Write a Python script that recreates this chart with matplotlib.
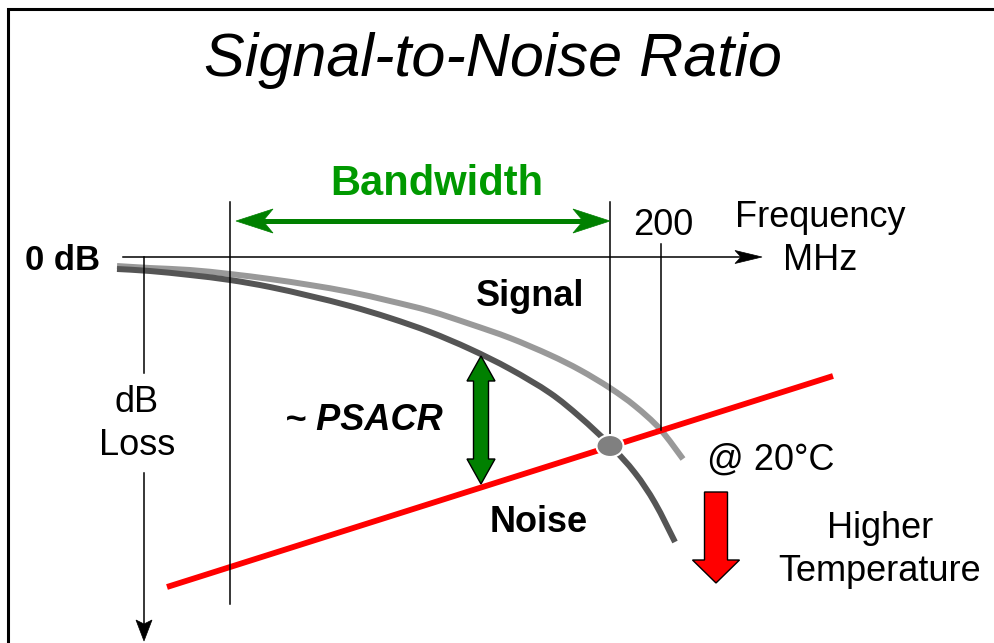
import numpy as np
import matplotlib
matplotlib.use("Agg")
import matplotlib.pyplot as plt
from matplotlib.path import Path
from matplotlib.patches import PathPatch, Polygon, Ellipse

plt.rcParams['font.family'] = ['Liberation Sans', 'DejaVu Sans']

# signal attenuation curves (pixel space of the sketch: x to the right, y down)
signal_20c_x = [117, 150, 190, 230, 270, 310, 350, 390, 430, 470, 510, 550, 580, 610, 635, 660, 683]
signal_20c_y = [266, 268, 270, 274, 279, 285, 292, 301, 311, 324, 338, 355, 370, 388, 406, 429, 459]
signal_hot_x = [117, 150, 190, 230, 270, 310, 350, 390, 430, 470, 510, 550, 580, 610, 635, 655, 675]
signal_hot_y = [269, 271, 275, 280, 287, 296, 306, 318, 332, 349, 369, 393, 417, 445, 473, 503, 542]

# noise line
noise_x = [167, 833]
noise_y = [587, 376]

# frequency axis and markers
freq_axis_y = 257
freq_axis_x = [123, 762]
band_edges = [230, 610]
mark_200 = 661
crossover = (610, 446)

W, H = 994, 643
fig = plt.figure(figsize=(W / 100, H / 100), dpi=100)
ax = fig.add_axes([0, 0, 1, 1])
ax.set_xlim(0, W)
ax.set_ylim(H, 0)
ax.axis('off')


def smooth(xs, ys):
    # catmull-rom through the points, drawn as cubic bezier pieces
    p = np.column_stack([xs, ys]).astype(float)
    p = np.vstack([p[0], p, p[-1]])
    verts = [p[1]]
    codes = [Path.MOVETO]
    for i in range(1, len(p) - 2):
        c1 = p[i] + (p[i + 1] - p[i - 1]) / 6
        c2 = p[i + 1] - (p[i + 2] - p[i]) / 6
        verts += [c1, c2, p[i + 1]]
        codes += [Path.CURVE4] * 3
    return Path(verts, codes)


def stealth(tip, direction, length, half, notch, color, z=5):
    t = np.array(tip, float)
    u = -np.array(direction, float)
    u /= np.linalg.norm(u)
    n = np.array([-u[1], u[0]])
    pts = [t, t + u * length + n * half, t + u * (length - notch), t + u * length - n * half]
    ax.add_patch(Polygon(pts, closed=True, fc=color, ec=color, lw=0.5, zorder=z))


# border
ax.plot([8, 8, W], [H, 9, 9], color='black', lw=2.2, solid_joinstyle='miter', zorder=1)

# title
ax.text(493, 76, 'Signal-to-Noise Ratio', fontsize=44, style='italic',
        ha='center', va='baseline')

# curves
ax.add_patch(PathPatch(smooth(signal_20c_x, signal_20c_y), fc='none', ec='#999999',
                       lw=4.3, capstyle='butt', zorder=2))
ax.add_patch(PathPatch(smooth(signal_hot_x, signal_hot_y), fc='none', ec='#555555',
                       lw=4.3, capstyle='butt', zorder=3))
ax.plot(noise_x, noise_y, color='#ff0000', lw=4.2, solid_capstyle='butt', zorder=4)

# frequency axis
ax.plot([freq_axis_x[0], freq_axis_x[1] - 20], [freq_axis_y] * 2, color='black', lw=1.1, zorder=5)
stealth((freq_axis_x[1], freq_axis_y), (1, 0), 27, 6.5, 6, 'black')

# dB loss axis
ax.plot([144, 144], [freq_axis_y, 373], color='black', lw=1.1, zorder=5)
ax.plot([144, 144], [473, 625], color='black', lw=1.1, zorder=5)
stealth((144, 641), (0, 1), 21, 8, 4, 'black')

# vertical markers
ax.plot([band_edges[0]] * 2, [202, 604], color='black', lw=1.1, zorder=5)
ax.plot([band_edges[1]] * 2, [202, crossover[1]], color='black', lw=1.1, zorder=5)
ax.plot([mark_200] * 2, [244, 430], color='black', lw=1.1, zorder=5)

# bandwidth arrow
bw_y = 221
ax.plot([band_edges[0] + 20, band_edges[1] - 20], [bw_y, bw_y], color='#008000', lw=3.6, zorder=5)
stealth((band_edges[0] + 6, bw_y), (-1, 0), 37, 12, 10, '#008000')
stealth((band_edges[1], bw_y), (1, 0), 37, 12, 10, '#008000')
ax.text(437, 195, 'Bandwidth', fontsize=30, fontweight='bold', color='#009900',
        ha='center', va='baseline')

# crossover dot
ax.add_patch(Ellipse(crossover, 27, 22, fc='#808080', ec='white', lw=1.5, zorder=6))

# PSACR double arrow
cx, top, bot = 481, 356, 484
sw, hw, hl = 7.5, 14, 25
ps = [(cx, top), (cx + hw, top + hl), (cx + sw, top + hl), (cx + sw, bot - hl),
      (cx + hw, bot - hl), (cx, bot), (cx - hw, bot - hl), (cx - sw, bot - hl),
      (cx - sw, top + hl), (cx - hw, top + hl)]
ax.add_patch(Polygon(ps, closed=True, fc='#008000', ec='black', lw=1.0, zorder=7))

# higher temperature arrow
rx, rtop, rbase, rtip = 716, 492, 560, 583
rs, rh = 11.5, 23.5
pr = [(rx - rs, rtop), (rx + rs, rtop), (rx + rs, rbase), (rx + rh, rbase),
      (rx, rtip), (rx - rh, rbase), (rx - rs, rbase)]
ax.add_patch(Polygon(pr, closed=True, fc='#ff0000', ec='black', lw=1.0, zorder=7))

# labels
fs = 26
ax.text(25, 270, '0 dB', fontsize=25, fontweight='bold', ha='left', va='baseline')
ax.text(663, 235, '200', fontsize=fs, ha='center', va='baseline')
ax.text(820, 227, 'Frequency', fontsize=fs, ha='center', va='baseline')
ax.text(820, 270, 'MHz', fontsize=fs, ha='center', va='baseline')
ax.text(476, 306, 'Signal', fontsize=fs, fontweight='bold', ha='left', va='baseline')
ax.text(137, 412, 'dB', fontsize=fs, ha='center', va='baseline')
ax.text(137, 455, 'Loss', fontsize=fs, ha='center', va='baseline')
ax.text(285, 430, '~ PSACR', fontsize=fs, fontweight='bold', style='italic',
        ha='left', va='baseline')
ax.text(707, 470, '@ 20°C', fontsize=fs, ha='left', va='baseline')
ax.text(490, 532, 'Noise', fontsize=fs, fontweight='bold', ha='left', va='baseline')
ax.text(880, 538, 'Higher', fontsize=fs, ha='center', va='baseline')
ax.text(880, 581, 'Temperature', fontsize=fs, ha='center', va='baseline')

fig.savefig('out.png', dpi=100)
